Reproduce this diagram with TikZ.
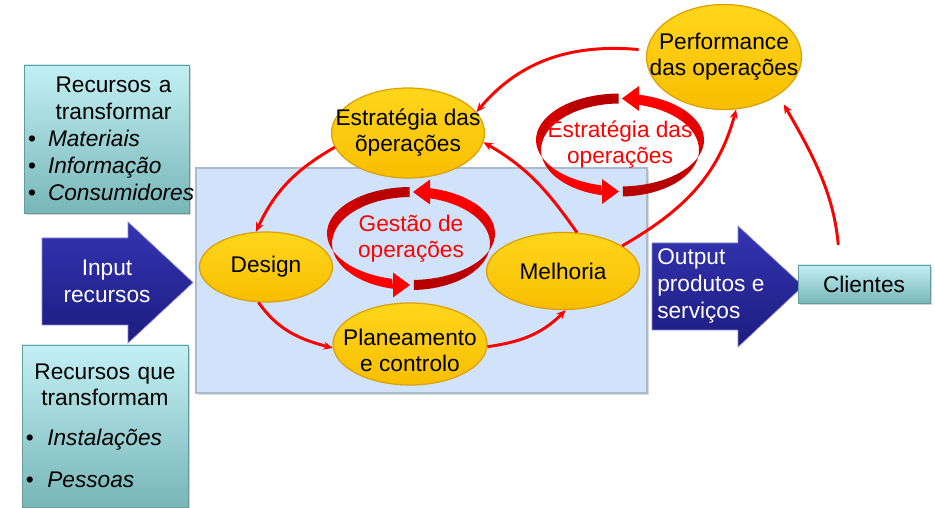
\documentclass[tikz,border=0pt]{standalone}
\usepackage{fontspec}
\setmainfont{Liberation Sans}
\usepackage{tikz}
\usetikzlibrary{arrows.meta,shapes.geometric,shadows}
\definecolor{opred}{RGB}{255,0,0}
\definecolor{ovaltop}{RGB}{255,214,28}
\definecolor{ovalbot}{RGB}{248,190,0}
\definecolor{ovalline}{RGB}{220,158,0}
\definecolor{tealtop}{RGB}{194,240,244}
\definecolor{tealbot}{RGB}{120,182,184}
\definecolor{navytop}{RGB}{52,52,178}
\definecolor{navybot}{RGB}{28,28,128}
\definecolor{opsblue}{RGB}{208,227,251}
\definecolor{opsedge}{RGB}{172,186,206}
% 一段立体环带: 颜色, 上中心, 下中心, 起始角, 终止角
\newcommand{\ribseg}[5]{%
	\fill[#1] ([shift={(#4:84 and 46.5)}]#2) arc[start angle=#4,end angle=#5,x radius=84,y radius=46.5]
	-- ([shift={(#5:79 and 46.5)}]#3) arc[start angle=#5,end angle=#4,x radius=79,y radius=46.5] -- cycle;}

\begin{document}
\begin{tikzpicture}[x=0.75pt,y=0.75pt,>=Stealth,
	oval/.style={ellipse,draw=ovalline,line width=0.9pt,top color=ovaltop,bottom color=ovalbot,inner sep=0pt},
	ovaltxt/.style={font=\fontsize{17}{19.5}\selectfont,align=center},
	ringtxt/.style={text=opred,font=\fontsize{17}{19.5}\selectfont,align=center},
	resbox/.style={draw=tealbot!85!black,line width=0.4pt,top color=tealtop,bottom color=tealbot,
		drop shadow={shadow xshift=1.5pt,shadow yshift=-1.5pt,opacity=0.35}},
	opsrect/.style={draw=opsedge,fill=opsblue,line width=1.4pt,inner sep=0pt,
		drop shadow={shadow xshift=1.5pt,shadow yshift=-1.5pt,opacity=0.3}},
	navyarrow/.style={draw=navytop!60!white,line width=0.5pt,top color=navytop,bottom color=navybot},
	arrowtxt/.style={text=white,font=\fontsize{17}{20}\selectfont,align=center},
	link/.style={draw=opred,line width=2.2pt,-{Stealth[length=7pt,width=6pt]}}]
	\useasboundingbox (0,0) rectangle (935,507);
	% 中间浅蓝底框
	\node[opsrect,minimum width=338.25pt,minimum height=168.75pt] (ops) at (421.5,226.5) {};
	% 左侧两个资源框
	\node[resbox,minimum width=123.75pt,minimum height=111pt,text width=117.75pt,inner xsep=3pt,align=left,
		font=\fontsize{17}{20.25}\selectfont] (rat) at (106.5,368)
		{\makebox[\linewidth][c]{\hspace*{10.5pt}Recursos a}\\
		 \makebox[\linewidth][c]{\hspace*{10.5pt}transformar}\\
		 \makebox[15pt][l]{\textbullet}\textit{Materiais}\\
		 \makebox[15pt][l]{\textbullet}\textit{Informação}\\
		 \makebox[15pt][l]{\textbullet}\textit{Consumidores}};
	\node[resbox,minimum width=124.5pt,minimum height=121.5pt,text width=118.5pt,inner xsep=3pt,align=left,
		font=\fontsize{17}{19.5}\selectfont] (rqt) at (105,81)
		{\makebox[\linewidth][c]{Recursos que}\\
		 \makebox[\linewidth][c]{transformam}\\[10.5pt]
		 \makebox[16pt][l]{\textbullet}\textit{Instalações}\\[12pt]
		 \makebox[16pt][l]{\textbullet}\textit{Pessoas}};
	% 输入输出箭头
	\path[navyarrow] (42,182) -- (128,182) -- (128,164) -- (193,224.5) -- (128,285) -- (128,269) -- (42,269) -- cycle;
	\node[arrowtxt] (inlbl) at (107,225.5) {Input\\recursos};
	\path[navyarrow] (652,177) -- (738,177) -- (738,160) -- (803,221) -- (738,281) -- (738,264) -- (652,264) -- cycle;
	\node[arrowtxt,anchor=west,align=left,inner sep=0pt] (outlbl) at (657,221) {Output\\produtos e\\serviços};
	\node[resbox,minimum width=99pt,minimum height=28.5pt,font=\fontsize{17}{19.5}\selectfont] (cli) at (864,223) {Clientes};
	% 两个循环
	\coordinate (gring) at (411,268.5);
	\coordinate (gup) at (411,273.5);
	\coordinate (glo) at (411,263.5);
	\ribseg{opred!72!black}{gup}{glo}{91}{131}
	\ribseg{opred!82!black}{gup}{glo}{130}{171}
	\ribseg{opred!92!black}{gup}{glo}{170}{216}
	\ribseg{opred}{gup}{glo}{215}{257}
	\ribseg{opred!72!black}{gup}{glo}{272}{321}
	\ribseg{opred!80!black}{gup}{glo}{320}{361}
	\ribseg{opred!90!black}{gup}{glo}{360}{401}
	\ribseg{opred}{gup}{glo}{400}{437}
	\fill[opred,shift={(gring)}] (2,46.5) -- (19,59) -- (19,34) -- cycle;
	\fill[opred,shift={(gring)}] (-1,-46.5) -- (-18,-34) -- (-18,-59) -- cycle;
	\coordinate (sring) at (620,362);
	\coordinate (sup) at (620,367);
	\coordinate (slo) at (620,357);
	\ribseg{opred!72!black}{sup}{slo}{91}{131}
	\ribseg{opred!82!black}{sup}{slo}{130}{171}
	\ribseg{opred!92!black}{sup}{slo}{170}{216}
	\ribseg{opred}{sup}{slo}{215}{257}
	\ribseg{opred!72!black}{sup}{slo}{272}{321}
	\ribseg{opred!80!black}{sup}{slo}{320}{361}
	\ribseg{opred!90!black}{sup}{slo}{360}{401}
	\ribseg{opred}{sup}{slo}{400}{437}
	\fill[opred,shift={(sring)}] (2,46.5) -- (19,59) -- (19,34) -- cycle;
	\fill[opred,shift={(sring)}] (-1,-46.5) -- (-18,-34) -- (-18,-59) -- cycle;
	\node[ringtxt] (glbl) at (gring) {Gestão de\\operações};
	\node[ringtxt] (slbl) at (sring) {Estratégia das\\operações};
	% 椭圆
	\node[oval,minimum width=114.75pt,minimum height=67.5pt,label={[ovaltxt]center:Estratégia das\\õperações}] (est) at (408,374) {};
	\node[oval,minimum width=99.75pt,minimum height=52.5pt,label={[ovaltxt]center:Design}] (design) at (266,240) {};
	\node[oval,minimum width=114.75pt,minimum height=57.75pt,label={[ovaltxt]center:Melhoria}] (mel) at (563,236) {};
	\node[oval,minimum width=115.5pt,minimum height=61.5pt,label={[ovaltxt,yshift=-5pt]center:Planeamento\\e controlo}] (plan) at (410,163) {};
	\node[oval,minimum width=116.25pt,minimum height=78.75pt,label={[ovaltxt]center:Performance\\das operações}] (perf) at (724,450) {};
	% 红色连线
	\draw[link] (est.191) to[out=210,in=65] (design.106);
	\draw[link] (design.258) to[out=-55,in=165] (plan.183);
	\draw[link] (plan.358) to[out=8,in=225] (mel.274);
	\draw[link] (mel.70) to[out=125,in=-30] (est.353);
	\draw[link,shorten <=6pt] (perf.175) to[out=175,in=50] (est.17);
	\draw[link] (mel.23) to[out=30,in=255] (perf.283);
	\draw[link,shorten <=15pt,shorten >=8pt] ([xshift=-18pt]cli.north) to[out=95,in=300] (perf.325);
\end{tikzpicture}
\end{document}
